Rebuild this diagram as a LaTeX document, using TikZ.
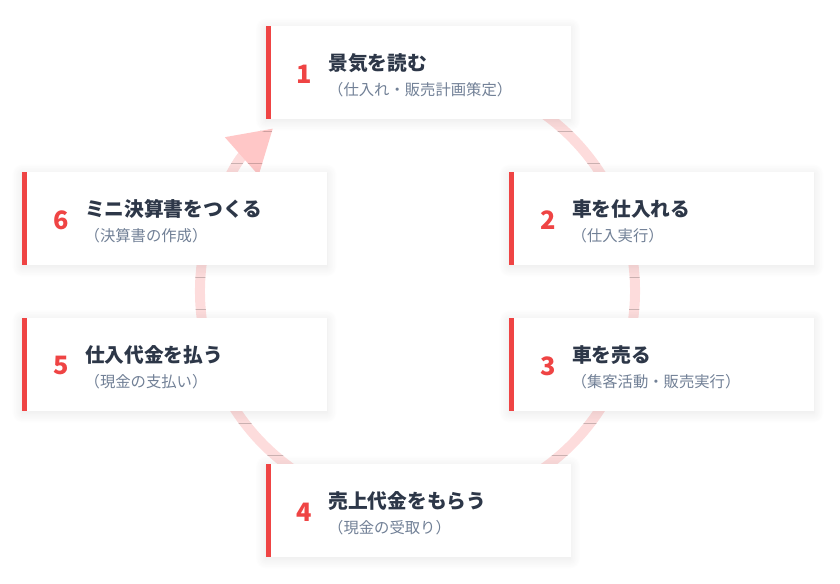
\documentclass[tikz,border=0pt]{standalone}
\usepackage{fontspec}
\setmainfont{Noto Sans CJK JP}
\usepackage{tikz}
\usetikzlibrary{arrows.meta,positioning,shadows.blur}

\definecolor{cardred}{HTML}{EF4444}
\definecolor{ringpink}{HTML}{FDDCDC}
\definecolor{arrowpink}{HTML}{FFC7C7}
\definecolor{titleink}{HTML}{2D3748}
\definecolor{subink}{HTML}{718096}

\begin{document}
\begin{tikzpicture}[x=0.75pt, y=0.75pt,
  card/.style={fill=white, minimum width=228.75pt, minimum height=69.75pt, inner sep=0pt,
    blur shadow={shadow xshift=0pt, shadow yshift=-1.5pt, shadow blur radius=8pt, shadow blur steps=16, shadow opacity=10},
    path picture={\fill[cardred] (path picture bounding box.south west) rectangle ([xshift=3.75pt]path picture bounding box.north west);}},
  cardnum/.style={font=\fontsize{19pt}{19pt}\selectfont\bfseries, text=cardred, inner sep=0pt},
  cardtitle/.style={font=\fontsize{14.8pt}{14.8pt}\selectfont\bfseries, text=titleink, inner sep=0pt, anchor=west},
  cardsub/.style={font=\fontsize{11.5pt}{11.5pt}\selectfont, text=subink, inner sep=0pt, anchor=west},
  ring/.style={draw=ringpink, line width=7.5pt}
]
\useasboundingbox (0,0) rectangle (840,584);
\coordinate (hub) at (417.5,293);
% cycle ring, drawn first so the cards cover it
\draw[ring, -{Triangle[width=36pt, length=31.5pt, color=arrowpink]}]
  (hub) ++(80:217.5) arc[start angle=80, end angle=-228.4, radius=217.5];
% the six cards
\foreach \n/\x/\y/\t/\s in {
  1/418/511.5/景気を読む/（仕入れ・販売計画策定）,
  2/661.5/365.5/車を仕入れる/（仕入実行）,
  3/661.5/219.5/車を売る/（集客活動・販売実行）,
  4/418/73.5/売上代金をもらう/（現金の受取り）,
  5/174.5/219.5/仕入代金を払う/（現金の支払い）,
  6/174.5/365.5/ミニ決算書をつくる/（決算書の作成）}
{
  \node[card] (step\n) at (\x,\y) {};
  \node[cardnum] (num\n) at ([xshift=29.6pt, yshift=-1.1pt]step\n.west) {\n};
  \node[cardtitle] (title\n) at ([xshift=47.25pt, yshift=7.1pt]step\n.west) {\t};
  \node[cardsub] (sub\n) at ([xshift=47pt, yshift=-13.1pt]step\n.west) {\s};
}
\end{tikzpicture}
\end{document}
